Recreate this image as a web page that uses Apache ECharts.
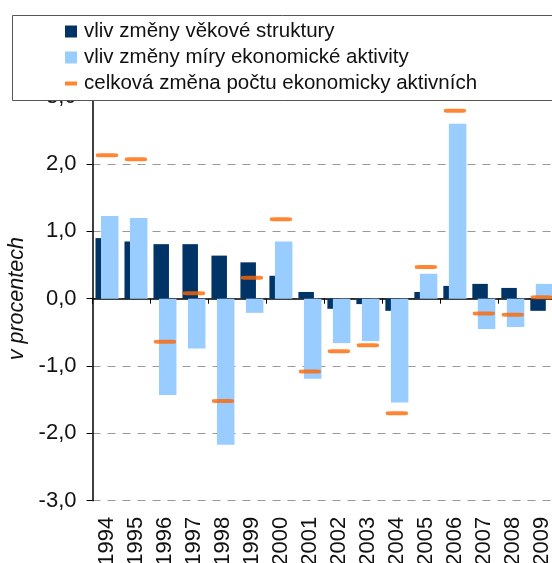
<!DOCTYPE html>
<html>
<head>
<meta charset="utf-8">
<script src="https://cdn.jsdelivr.net/npm/echarts@6/dist/echarts.min.js"></script>
<style>
html,body{margin:0;padding:0;background:#fff;}
#chart{width:552px;height:563px;}
</style>
</head>
<body>
<div id="chart"></div>
<script>
var years = ['1994','1995','1996','1997','1998','1999','2000','2001','2002','2003','2004','2005','2006','2007','2008','2009'];
var vekova = [0.90, 0.85, 0.81, 0.81, 0.64, 0.54, 0.34, 0.10, -0.15, -0.08, -0.18, 0.10, 0.19, 0.22, 0.16, -0.18];
var miraAktivity = [1.23, 1.20, -1.43, -0.74, -2.17, -0.21, 0.85, -1.19, -0.66, -0.63, -1.54, 0.37, 2.60, -0.45, -0.42, 0.22];
var celkova = [2.13, 2.07, -0.64, 0.08, -1.52, 0.31, 1.18, -1.08, -0.78, -0.69, -1.70, 0.47, 2.79, -0.22, -0.24, 0.02];
var names = ['vliv změny věkové struktury', 'vliv změny míry ekonomické aktivity', 'celková změna počtu ekonomicky aktivních'];

var font = '"Liberation Sans", Arial, sans-serif';
var chart = echarts.init(document.getElementById('chart'), null, {renderer: 'canvas'});
function fmt(v){ return v.toFixed(1).replace('.', ','); }

chart.setOption({
  animation: false,
  backgroundColor: '#ffffff',
  graphic: [{
    type: 'rect',
    z: 3,
    shape: {x: 12.5, y: 15.5, width: 700, height: 85},
    style: {fill: '#ffffff', stroke: '#555555', lineWidth: 1}
  }],
  legend: {
    orient: 'vertical',
    left: 65,
    top: 21,
    padding: 0,
    itemGap: 5,
    itemWidth: 12,
    itemHeight: 12,
    z: 5,
    textStyle: {fontFamily: font, fontSize: 20.5, color: '#111', lineHeight: 20, padding: [0, 0, 0, 2]},
    data: [
      {name: names[0], icon: 'rect'},
      {name: names[1], icon: 'rect'},
      {name: names[2], icon: 'path://M0,0h12v4h-12z'}
    ]
  },
  grid: {left: 92.5, right: -4.3, top: 96.7, bottom: 62.3, outerBoundsMode: 'none', containLabel: false},
  xAxis: [{
    type: 'category',
    data: years,
    boundaryGap: true,
    axisLine: {show: true, onZero: true, lineStyle: {color: '#000', width: 1.5}},
    axisTick: {show: true, length: 5, lineStyle: {color: '#000'}},
    axisLabel: {show: false},
    splitLine: {show: false}
  }, {
    type: 'category',
    data: years,
    position: 'bottom',
    boundaryGap: true,
    axisLine: {show: false, onZero: false},
    axisTick: {show: false},
    axisLabel: {show: true, interval: 0, rotate: 90, margin: 16, fontFamily: font, fontSize: 22, color: '#111', hideOverlap: false},
    splitLine: {show: false}
  }],
  yAxis: {
    type: 'value',
    min: -3, max: 3, interval: 1,
    name: 'v procentech',
    nameLocation: 'middle',
    nameGap: 59,
    nameTextStyle: {fontFamily: font, fontSize: 21.5, fontStyle: 'italic', color: '#111'},
    axisLine: {show: true, lineStyle: {color: '#000', width: 1.5}},
    axisTick: {show: true, length: 6, lineStyle: {color: '#000'}},
    axisLabel: {margin: 16, fontFamily: font, fontSize: 22, color: '#111', formatter: fmt},
    splitLine: {show: true, lineStyle: {color: '#999', type: [8, 7], width: 1}}
  },
  series: [{
    name: names[0],
    type: 'bar',
    xAxisIndex: 0,
    data: vekova,
    barWidth: 15.5,
    barGap: '-64.5%',
    itemStyle: {color: '#003366'}
  }, {
    name: names[1],
    type: 'bar',
    xAxisIndex: 0,
    data: miraAktivity,
    barWidth: 17.5,
    barGap: '-64.5%',
    itemStyle: {color: '#99ccff'}
  }, {
    name: names[2],
    type: 'scatter',
    xAxisIndex: 0,
    data: celkova,
    symbol: 'roundRect',
    symbolSize: [22, 4],
    z: 5,
    itemStyle: {color: '#ff6600'}
  }]
});
</script>
</body>
</html>
